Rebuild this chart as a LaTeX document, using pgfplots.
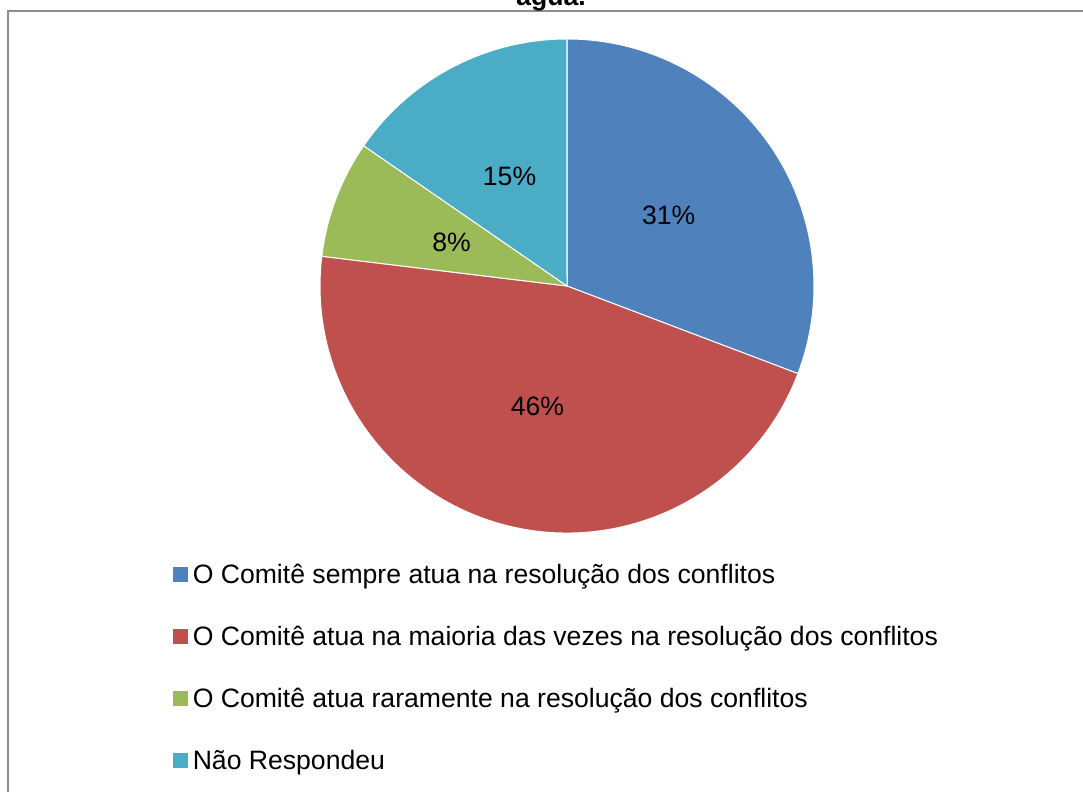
\documentclass[border=0pt]{standalone}
\usepackage{pgfplots}
\pgfplotsset{compat=1.18}
\usepackage{pgfplotstable}
\usetikzlibrary{calc}
\usepackage{fontspec}
\setmainfont{Liberation Sans}
\definecolor{cA}{HTML}{4F81BD}
\definecolor{cB}{HTML}{C0504D}
\definecolor{cC}{HTML}{9BBB59}
\definecolor{cD}{HTML}{4BACC6}
\definecolor{frame}{HTML}{8C8C8C}
\pgfplotstableread{
value label
30.77 31
46.15 46
7.69 8
15.38 15
}\piedata
\newcommand\lbl{\fontsize{13.3pt}{16pt}\selectfont}
\begin{document}
\begin{tikzpicture}[font=\lbl]
\useasboundingbox (0,0) rectangle (541.5pt,396pt);
\clip (0,0) rectangle (541.5pt,396pt);
\pgfplotstablegetelem{0}{value}\of\piedata \pgfmathsetmacro\vA{\pgfplotsretval}
\pgfplotstablegetelem{1}{value}\of\piedata \pgfmathsetmacro\vB{\pgfplotsretval}
\pgfplotstablegetelem{2}{value}\of\piedata \pgfmathsetmacro\vC{\pgfplotsretval}
\pgfplotstablegetelem{3}{value}\of\piedata \pgfmathsetmacro\vD{\pgfplotsretval}
\pgfmathsetmacro\aA{90-3.6*\vA}
\pgfmathsetmacro\aB{\aA-3.6*\vB}
\pgfmathsetmacro\aC{\aB-3.6*\vC}
\pgfmathsetmacro\aD{\aC-3.6*\vD}
\pgfmathsetmacro\mA{(90+\aA)/2}
\pgfmathsetmacro\mB{(\aA+\aB)/2}
\pgfmathsetmacro\mC{(\aB+\aC)/2}
\pgfmathsetmacro\mD{(\aC+\aD)/2}
\begin{axis}[
  x=0.5pt, y=0.5pt, xmin=0, xmax=1083, ymin=0, ymax=792,
  at={(0,0)}, anchor=south west, hide axis, clip=false,
  legend image code/.code={\fill[#1] (0pt,-3.5pt) rectangle (7pt,3.5pt);},
  legend style={font=\lbl, draw=none, fill=none, inner sep=0pt, outer sep=0pt,
    at={(0.1597,0.1578)}, anchor=west, row sep=16pt, column sep=2.5pt,
    nodes={inner sep=0pt, text height=12pt, text depth=3pt}},
  legend cell align=left,
]
\fill[cA, draw=white, line width=0.5pt] (axis cs:567,506) -- ++(90:123.5pt) arc[start angle=90, end angle=\aA, radius=123.5pt] -- cycle;
\fill[cB, draw=white, line width=0.5pt] (axis cs:567,506) -- ++(\aA:123.5pt) arc[start angle=\aA, end angle=\aB, radius=123.5pt] -- cycle;
\fill[cC, draw=white, line width=0.5pt] (axis cs:567,506) -- ++(\aB:123.5pt) arc[start angle=\aB, end angle=\aC, radius=123.5pt] -- cycle;
\fill[cD, draw=white, line width=0.5pt] (axis cs:567,506) -- ++(\aC:123.5pt) arc[start angle=\aC, end angle=\aD, radius=123.5pt] -- cycle;
\node at ($(axis cs:567,506)+(\mA:61.75pt)$) {31\%};
\node at ($(axis cs:567,506)+(\mB:61.75pt)$) {46\%};
\node at ($(axis cs:567,506)+(\mC:61.75pt)$) {8\%};
\node at ($(axis cs:567,506)+(\mD:61.75pt)$) {15\%};
\draw[frame, line width=0.75pt] (axis cs:8,-5) -- (axis cs:8,781) -- (axis cs:1090,781);
\node[anchor=base, font=\lbl\bfseries] at (axis cs:551,786) {água.};
\addlegendimage{cA}
\addlegendentry{O Comitê sempre atua na resolução dos conflitos}
\addlegendimage{cB}
\addlegendentry{O Comitê atua na maioria das vezes na resolução dos conflitos}
\addlegendimage{cC}
\addlegendentry{O Comitê atua raramente na resolução dos conflitos}
\addlegendimage{cD}
\addlegendentry{Não Respondeu}
\end{axis}
\end{tikzpicture}
\end{document}
